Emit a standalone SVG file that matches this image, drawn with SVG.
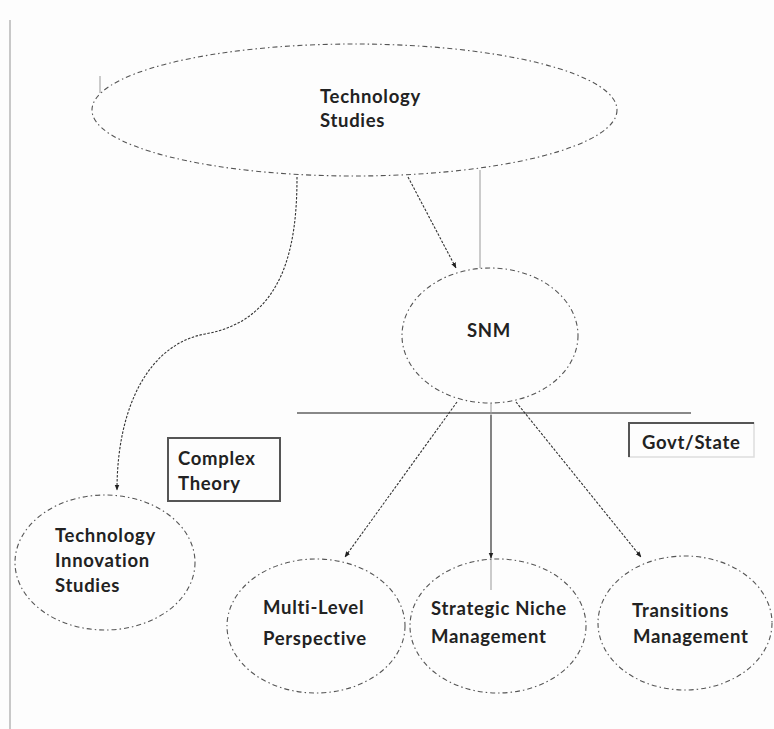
<svg xmlns="http://www.w3.org/2000/svg" width="774" height="729" viewBox="0 0 774 729">
<defs>
<style>
.node ellipse{fill:none;stroke:#555;stroke-width:1.1;stroke-dasharray:5 3 1.5 3}
.lbl{font-family:Lato,"Liberation Sans",sans-serif;font-weight:bold;font-size:18.5px;letter-spacing:0.7px;fill:#222}
.dot{fill:none;stroke:#333;stroke-width:1.1;stroke-dasharray:2.5 1.5}
.sol{fill:none;stroke:#333;stroke-width:1.2}
.thin{fill:none;stroke:#999;stroke-width:1}
</style>
<marker id="ah" viewBox="0 0 10 10" refX="9" refY="5" markerWidth="6" markerHeight="6" orient="auto" markerUnits="userSpaceOnUse">
<path d="M0,1 L10,5 L0,9 z" fill="#222"/>
</marker>
</defs>
<rect width="774" height="729" fill="#fdfdfd"/>
<line x1="10" y1="20" x2="10" y2="729" stroke="#c8c8c8" stroke-width="2"/>

<g id="connectors">
<line x1="100" y1="76" x2="100" y2="93" class="thin"/>
<path d="M297,177 C297,245 285,320 205,334 C150,344 117,405 117,490" class="dot" marker-end="url(#ah)"/>
<line x1="408" y1="177" x2="456" y2="268" class="dot" marker-end="url(#ah)"/>
<line x1="480" y1="170" x2="480" y2="268" class="thin"/>
<line x1="297" y1="413" x2="691" y2="413" stroke="#888" stroke-width="2"/>
<line x1="457" y1="402" x2="345" y2="557" class="dot" marker-end="url(#ah)"/>
<line x1="491" y1="403" x2="491" y2="415" class="thin"/>
<line x1="491" y1="415" x2="491" y2="558" class="sol" marker-end="url(#ah)"/>
<line x1="491" y1="558" x2="491" y2="590" class="thin"/>
<line x1="516" y1="402" x2="641" y2="557" class="dot" marker-end="url(#ah)"/>
</g>

<g id="technology-studies" class="node">
<ellipse cx="354.5" cy="110" rx="262.5" ry="66"/>
<text class="lbl" x="320" y="103">Technology</text>
<text class="lbl" x="320" y="127">Studies</text>
</g>

<g id="snm" class="node">
<ellipse cx="490" cy="335.5" rx="88" ry="67.5"/>
<text class="lbl" x="467" y="337">SNM</text>
</g>

<g id="govt-state">
<rect x="629" y="423" width="125" height="34" fill="none" stroke="#ddd" stroke-width="1.5"/>
<path d="M629,457 L629,423 L754,423" fill="none" stroke="#555" stroke-width="2"/>
<text class="lbl" x="642" y="449">Govt/State</text>
</g>

<g id="complex-theory">
<rect x="168" y="438" width="112" height="63" fill="none" stroke="#555" stroke-width="2"/>
<text class="lbl" x="178" y="465">Complex</text>
<text class="lbl" x="178" y="490">Theory</text>
</g>

<g id="technology-innovation-studies" class="node">
<ellipse cx="105" cy="562.5" rx="90" ry="67.5"/>
<text class="lbl" x="55" y="542">Technology</text>
<text class="lbl" x="55" y="567">Innovation</text>
<text class="lbl" x="55" y="592">Studies</text>
</g>

<g id="multi-level-perspective" class="node">
<ellipse cx="316" cy="626" rx="89" ry="67"/>
<text class="lbl" x="263" y="614">Multi-Level</text>
<text class="lbl" x="263" y="645">Perspective</text>
</g>

<g id="strategic-niche-management" class="node">
<ellipse cx="498" cy="626" rx="88" ry="67"/>
<text class="lbl" x="431" y="615">Strategic Niche</text>
<text class="lbl" x="431" y="643">Management</text>
</g>

<g id="transitions-management" class="node">
<ellipse cx="685" cy="623" rx="87" ry="67"/>
<text class="lbl" x="632" y="617">Transitions</text>
<text class="lbl" x="633" y="643">Management</text>
</g>
</svg>
